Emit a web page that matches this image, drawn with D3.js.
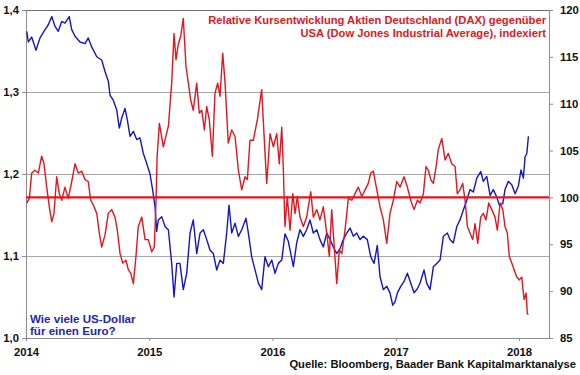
<!DOCTYPE html>
<html>
<head>
<meta charset="utf-8">
<script src="https://cdn.jsdelivr.net/npm/d3@7"></script>
<style>
  body { margin: 0; background: #fff; }
  svg { display: block; font-family: "Liberation Sans", Arial, sans-serif; }
</style>
</head>
<body>
<div id="chart"></div>
<script>
// EUR/USD (left axis), dates as decimal years
var usdYears = [2014.006, 2014.019, 2014.046, 2014.081, 2014.114, 2014.154, 2014.181, 2014.209, 2014.235, 2014.262,
  2014.290, 2014.316, 2014.351, 2014.371, 2014.398, 2014.438, 2014.479, 2014.505, 2014.533, 2014.574,
  2014.614, 2014.641, 2014.668, 2014.682, 2014.708, 2014.736, 2014.757, 2014.776, 2014.803, 2014.822,
  2014.844, 2014.871, 2014.898, 2014.925, 2014.952, 2014.979, 2015.006, 2015.028, 2015.047, 2015.060,
  2015.073, 2015.101, 2015.128, 2015.155, 2015.182, 2015.201, 2015.223, 2015.249, 2015.276, 2015.304,
  2015.331, 2015.357, 2015.385, 2015.412, 2015.439, 2015.466, 2015.493, 2015.520, 2015.547, 2015.574,
  2015.601, 2015.628, 2015.647, 2015.669, 2015.696, 2015.723, 2015.750, 2015.785, 2015.804, 2015.831,
  2015.858, 2015.885, 2015.912, 2015.939, 2015.966, 2015.994, 2016.020, 2016.047, 2016.075, 2016.101,
  2016.128, 2016.169, 2016.196, 2016.223, 2016.250, 2016.277, 2016.304, 2016.331, 2016.359, 2016.385,
  2016.412, 2016.440, 2016.467, 2016.493, 2016.521, 2016.548, 2016.574, 2016.602, 2016.629, 2016.656,
  2016.683, 2016.710, 2016.737, 2016.769, 2016.797, 2016.824, 2016.850, 2016.872, 2016.899, 2016.927,
  2016.953, 2016.975, 2016.994, 2017.013, 2017.040, 2017.067, 2017.094, 2017.121, 2017.148, 2017.175,
  2017.197, 2017.229, 2017.251, 2017.278, 2017.305, 2017.332, 2017.359, 2017.386, 2017.418, 2017.440,
  2017.467, 2017.495, 2017.521, 2017.548, 2017.576, 2017.602, 2017.629, 2017.657, 2017.689, 2017.710,
  2017.738, 2017.765, 2017.791, 2017.819, 2017.840, 2017.868, 2017.886, 2017.913, 2017.941, 2017.968,
  2017.994, 2018.016, 2018.035, 2018.049, 2018.063, 2018.076];
var usdValues = [1.374, 1.361, 1.367, 1.351, 1.366, 1.376, 1.382, 1.392, 1.380, 1.374,
  1.386, 1.384, 1.392, 1.376, 1.368, 1.361, 1.359, 1.366, 1.355, 1.343,
  1.339, 1.325, 1.313, 1.296, 1.290, 1.278, 1.256, 1.268, 1.280, 1.266,
  1.246, 1.252, 1.242, 1.244, 1.225, 1.213, 1.200, 1.180, 1.160, 1.130,
  1.144, 1.148, 1.136, 1.132, 1.091, 1.050, 1.091, 1.091, 1.059, 1.079,
  1.128, 1.144, 1.103, 1.128, 1.132, 1.120, 1.107, 1.103, 1.083, 1.095,
  1.091, 1.128, 1.162, 1.128, 1.140, 1.124, 1.132, 1.146, 1.128, 1.099,
  1.083, 1.067, 1.059, 1.099, 1.087, 1.095, 1.079, 1.091, 1.095, 1.127,
  1.118, 1.087, 1.116, 1.132, 1.124, 1.132, 1.144, 1.128, 1.132, 1.120,
  1.111, 1.128, 1.120, 1.111, 1.103, 1.109, 1.120, 1.128, 1.134, 1.124,
  1.128, 1.120, 1.124, 1.120, 1.099, 1.091, 1.113, 1.075, 1.059, 1.063,
  1.055, 1.040, 1.044, 1.055, 1.063, 1.069, 1.079, 1.067, 1.055, 1.060,
  1.067, 1.083, 1.067, 1.059, 1.087, 1.091, 1.095, 1.124, 1.128, 1.120,
  1.116, 1.136, 1.144, 1.156, 1.168, 1.181, 1.178, 1.195, 1.203, 1.191,
  1.197, 1.174, 1.181, 1.172, 1.162, 1.164, 1.181, 1.191, 1.187, 1.176,
  1.185, 1.205, 1.195, 1.221, 1.225, 1.246];

// DAX relative to Dow Jones, indexed (right axis)
var daxYears = [2014.006, 2014.027, 2014.046, 2014.073, 2014.100, 2014.127, 2014.146, 2014.168, 2014.189, 2014.209,
  2014.227, 2014.249, 2014.270, 2014.290, 2014.316, 2014.343, 2014.371, 2014.398, 2014.424, 2014.452,
  2014.479, 2014.505, 2014.525, 2014.546, 2014.574, 2014.595, 2014.614, 2014.641, 2014.668, 2014.695,
  2014.722, 2014.741, 2014.763, 2014.785, 2014.811, 2014.830, 2014.850, 2014.871, 2014.892, 2014.911,
  2014.939, 2014.966, 2014.992, 2015.020, 2015.041, 2015.055, 2015.064, 2015.082, 2015.114, 2015.155,
  2015.182, 2015.201, 2015.217, 2015.236, 2015.255, 2015.276, 2015.298, 2015.317, 2015.336, 2015.357,
  2015.385, 2015.406, 2015.426, 2015.447, 2015.466, 2015.487, 2015.512, 2015.533, 2015.555, 2015.574,
  2015.596, 2015.615, 2015.641, 2015.669, 2015.696, 2015.723, 2015.750, 2015.777, 2015.796, 2015.817,
  2015.844, 2015.877, 2015.912, 2015.939, 2015.953, 2015.980, 2016.007, 2016.034, 2016.055, 2016.075,
  2016.088, 2016.101, 2016.120, 2016.142, 2016.164, 2016.183, 2016.201, 2016.223, 2016.250, 2016.277,
  2016.310, 2016.331, 2016.359, 2016.385, 2016.412, 2016.440, 2016.461, 2016.480, 2016.499, 2016.521,
  2016.542, 2016.562, 2016.588, 2016.615, 2016.643, 2016.669, 2016.696, 2016.724, 2016.751, 2016.777,
  2016.797, 2016.818, 2016.846, 2016.872, 2016.899, 2016.927, 2016.953, 2016.980, 2017.008, 2017.035,
  2017.067, 2017.094, 2017.121, 2017.148, 2017.175, 2017.197, 2017.224, 2017.245, 2017.264, 2017.284,
  2017.305, 2017.327, 2017.345, 2017.373, 2017.400, 2017.426, 2017.454, 2017.481, 2017.499, 2017.521,
  2017.543, 2017.562, 2017.581, 2017.602, 2017.624, 2017.643, 2017.665, 2017.689, 2017.710, 2017.732,
  2017.754, 2017.779, 2017.805, 2017.824, 2017.846, 2017.868, 2017.886, 2017.905, 2017.921, 2017.941,
  2017.959, 2017.981, 2018.002, 2018.022, 2018.041, 2018.057, 2018.067, 2018.076];
var daxValues = [99.4, 99.9, 102.6, 102.9, 102.6, 104.4, 103.6, 101.1, 99.0, 97.4,
  98.3, 102.2, 100.4, 99.7, 101.1, 99.9, 101.7, 103.6, 102.6, 102.8,
  101.9, 101.7, 99.7, 99.2, 98.3, 96.2, 94.7, 96.0, 98.3, 98.7,
  97.9, 96.5, 94.0, 93.0, 93.3, 92.3, 91.9, 90.8, 93.7, 96.9,
  97.9, 95.5, 95.5, 94.2, 94.7, 99.7, 104.4, 107.9, 105.4, 107.6,
  112.2, 117.5, 114.7, 116.4, 117.2, 119.1, 114.0, 112.2, 110.4, 109.3,
  112.2, 109.0, 109.3, 107.2, 109.7, 108.3, 104.4, 111.1, 112.2, 110.8,
  115.4, 112.2, 105.8, 107.2, 106.5, 102.9, 100.8, 102.2, 101.9, 106.1,
  106.1, 108.3, 111.5, 104.7, 101.5, 106.8, 105.4, 106.8, 103.6, 107.5,
  102.9, 96.9, 100.1, 96.5, 100.4, 98.3, 100.1, 97.9, 96.9, 97.9,
  100.6, 97.9, 98.7, 97.6, 99.0, 96.2, 93.7, 98.7, 95.1, 90.8,
  94.4, 94.0, 96.5, 99.9, 99.7, 100.4, 101.1, 100.1, 100.8, 101.5,
  102.6, 102.8, 100.8, 99.0, 97.6, 95.1, 98.3, 99.7, 101.7, 101.1,
  102.2, 101.1, 99.7, 98.7, 99.7, 99.4, 100.4, 103.3, 102.9, 101.9,
  101.5, 103.3, 105.1, 106.3, 104.0, 104.7, 103.6, 103.3, 100.4, 100.8,
  101.5, 99.7, 96.9, 96.2, 95.5, 97.2, 95.1, 97.9, 98.3, 97.6,
  99.4, 98.7, 97.9, 96.5, 99.4, 98.7, 96.9, 96.2, 93.7, 93.0,
  92.3, 91.5, 91.2, 91.5, 89.1, 89.8, 87.6, 87.5];

// Tick labels
var yearTicks = [2014, 2015, 2016, 2017, 2018];
var leftTicks = [1.0, 1.1, 1.2, 1.3, 1.4];
var rightTicks = [85, 90, 95, 100, 105, 110, 115, 120];
var baseIndex = 100;

var titleLines = ["Relative Kursentwicklung Aktien Deutschland (DAX) gegenüber",
  "USA (Dow Jones Industrial Average), indexiert"];
var usdLabel = ["Wie viele US-Dollar", "für einen Euro?"];
var sourceText = "Quelle: Bloomberg, Baader Bank Kapitalmarktanalyse";

// SVG area
var svgWidth = 580;
var svgHeight = 375;

var chartMargin = {
  top: 10,
  right: 31,
  bottom: 37,
  left: 26
};

var chartWidth = svgWidth - chartMargin.left - chartMargin.right;
var chartHeight = svgHeight - chartMargin.top - chartMargin.bottom;

var red = "#e3151d";
var blue = "#1414c8";

var svg = d3.select("#chart")
  .append("svg")
  .attr("width", svgWidth)
  .attr("height", svgHeight);

var chartGroup = svg.append("g")
  .attr("transform", `translate(${chartMargin.left}, ${chartMargin.top})`);

// Scales
var xScale = d3.scaleLinear()
  .domain([2014, 2018.243])
  .range([0, chartWidth]);

var yLeft = d3.scaleLinear()
  .domain([1.0, 1.4])
  .range([chartHeight, 0]);

var yRight = d3.scaleLinear()
  .domain([85, 120])
  .range([chartHeight, 0]);

// horizontal gridlines
chartGroup.append("g")
  .selectAll("line")
  .data(leftTicks.slice(1))
  .enter().append("line")
  .attr("x1", 0)
  .attr("x2", chartWidth)
  .attr("y1", d => Math.round(yLeft(d)) + 0.5)
  .attr("y2", d => Math.round(yLeft(d)) + 0.5)
  .attr("stroke", d => d === 1.4 ? "#6e6e6e" : "#a8a8a8")
  .attr("stroke-width", 1);

// Axes
var leftAxis = d3.axisLeft(yLeft)
  .tickValues(leftTicks)
  .tickFormat(d => d3.format(".1f")(d).replace(".", ","))
  .tickSize(4)
  .tickPadding(3);

var rightAxis = d3.axisRight(yRight)
  .tickValues(rightTicks)
  .tickSize(4)
  .tickPadding(7);

var bottomAxis = d3.axisBottom(xScale)
  .tickValues(yearTicks)
  .tickFormat(d3.format("d"))
  .tickSizeInner(3)
  .tickSizeOuter(0)
  .tickPadding(7);

var gLeft = chartGroup.append("g").call(leftAxis);
var gRight = chartGroup.append("g")
  .attr("transform", `translate(${chartWidth}, 0)`)
  .call(rightAxis);
var gBottom = chartGroup.append("g")
  .attr("transform", `translate(0, ${chartHeight})`)
  .call(bottomAxis);

[gLeft, gRight, gBottom].forEach(function(g) {
  g.select(".domain").attr("stroke", "#8c8c8c");
  g.selectAll(".tick line").attr("stroke", "#8c8c8c");
  g.selectAll(".tick text")
    .attr("fill", "#111")
    .attr("font-size", 11.3)
    .attr("font-weight", "bold")
    .attr("font-family", "Liberation Sans, Arial, sans-serif");
});

// Lines
var usdLine = d3.line()
  .x(d => xScale(d[0]))
  .y(d => yLeft(d[1]));

var daxLine = d3.line()
  .x(d => xScale(d[0]))
  .y(d => yRight(d[1]));

chartGroup.append("path")
  .datum(d3.zip(usdYears, usdValues))
  .attr("fill", "none")
  .attr("stroke", blue)
  .attr("stroke-width", 1.4)
  .attr("stroke-linejoin", "round")
  .attr("d", usdLine);

chartGroup.append("path")
  .datum(d3.zip(daxYears, daxValues))
  .attr("fill", "none")
  .attr("stroke", red)
  .attr("stroke-width", 1.4)
  .attr("stroke-linejoin", "round")
  .attr("d", daxLine);

// index 100 reference line
chartGroup.append("line")
  .attr("x1", 0)
  .attr("x2", chartWidth)
  .attr("y1", yRight(baseIndex))
  .attr("y2", yRight(baseIndex))
  .attr("stroke", red)
  .attr("stroke-width", 2.2);

// Texts
svg.append("g")
  .attr("font-size", 11.2)
  .attr("font-weight", "bold")
  .attr("fill", red)
  .attr("text-anchor", "end")
  .selectAll("text")
  .data(titleLines)
  .enter().append("text")
  .attr("x", 546)
  .attr("y", (d, i) => 24 + i * 12.5)
  .text(d => d);

svg.append("g")
  .attr("font-size", 11.6)
  .attr("font-weight", "bold")
  .attr("fill", "#2424b8")
  .selectAll("text")
  .data(usdLabel)
  .enter().append("text")
  .attr("x", 30)
  .attr("y", (d, i) => 323 + i * 12)
  .text(d => d);

svg.append("text")
  .attr("x", 576)
  .attr("y", 368)
  .attr("text-anchor", "end")
  .attr("font-size", 11.2)
  .attr("font-weight", "bold")
  .attr("fill", "#111")
  .text(sourceText);
</script>
</body>
</html>
